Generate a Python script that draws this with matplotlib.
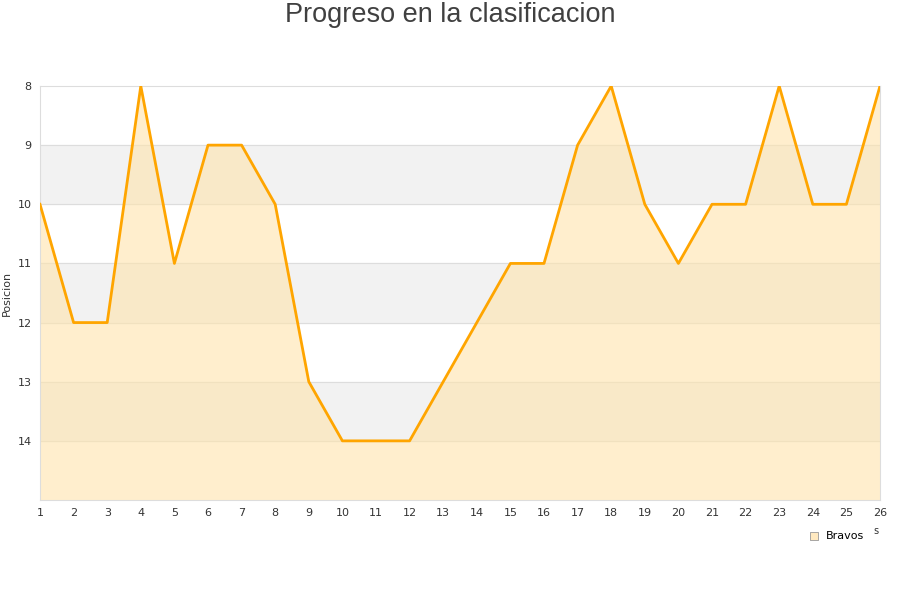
import matplotlib.pyplot as plt

jornadas = list(range(1, 27))
posicion = [10, 12, 12, 8, 11, 9, 9, 10, 13, 14, 14, 14, 13, 12, 11, 11,
            9, 8, 10, 11, 10, 10, 8, 10, 10, 8]
y_ticks = [8, 9, 10, 11, 12, 13, 14]

fig = plt.figure(figsize=(9, 6), dpi=100)
ax = fig.add_axes([40 / 900, 100 / 600, 840 / 900, 414 / 600])

# bandas alternas
for lo in [9, 11, 13]:
    ax.axhspan(lo, lo + 1, color='#f2f2f2', zorder=0)
for y in y_ticks[1:]:
    ax.axhline(y, color='#dddddd', lw=0.8, zorder=1)

ax.fill_between(jornadas, posicion, 15, color='#ffe4ac', alpha=0.6, zorder=2, lw=0)
ax.plot(jornadas, posicion, color='#ffa500', lw=2, zorder=3)

ax.set_xlim(1, 26)
ax.set_ylim(15, 8)
ax.set_xticks(jornadas)
ax.set_yticks(y_ticks)
ax.tick_params(length=0, labelsize=8, colors='#333333', pad=6)
for s in ax.spines.values():
    s.set_color('#dddddd')
ax.set_ylabel('Posicion', fontsize=8, color='#333333', labelpad=4)

fig.text(0.5, 1 - 15 / 600, 'Progreso en la clasificacion', fontsize=19.5,
         color='#404040', family='Liberation Sans', ha='center', va='center')

h = ax.scatter([], [], marker='s', s=40, color='#ffe9c0', edgecolors='#999999',
               linewidths=0.6)
fig.legend([h], ['Bravos'], loc='center left', bbox_to_anchor=(803 / 900, 1 - 536 / 600),
           frameon=False, fontsize=8, handletextpad=0.1, borderaxespad=0, borderpad=0)
fig.text(876 / 900, 1 - 531 / 600, 's', fontsize=7, color='#333333', ha='center', va='center')

fig.savefig('out.png', dpi=100)
